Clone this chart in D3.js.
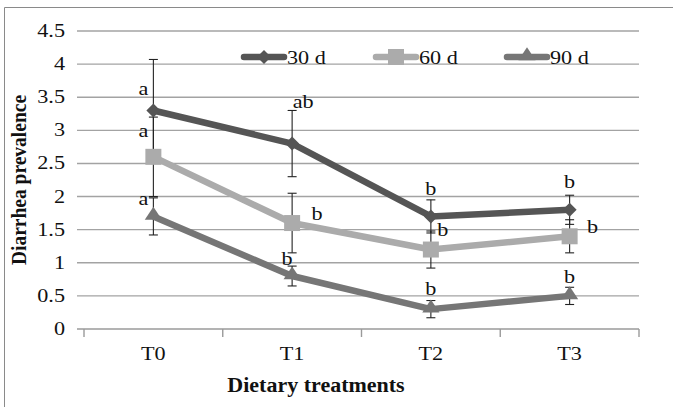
<!DOCTYPE html>
<html><head><meta charset="utf-8">
<script src="https://cdn.jsdelivr.net/npm/d3@7"></script>
<style>body{margin:0;background:#fff}svg{display:block}</style>
</head><body>
<svg id="c" width="673" height="407"></svg>
<script>
const categories = ["T0","T1","T2","T3"];
const seriesNames = ["30 d","60 d","90 d"];
const values30 = [3.3, 2.8, 1.7, 1.8];
const values60 = [2.6, 1.6, 1.2, 1.4];
const values90 = [1.7, 0.8, 0.3, 0.5];
const err30 = [0.77, 0.5, 0.25, 0.22];
const err60 = [0.6, 0.45, 0.28, 0.25];
const err90 = [0.28, 0.15, 0.13, 0.13];
const letters30 = ["a","ab","b","b"];
const letters60 = ["a","b","b","b"];
const letters90 = ["a","b","b","b"];
const yTicks = [0,0.5,1,1.5,2,2.5,3,3.5,4,4.5];
const xTitle = "Dietary treatments";
const yTitle = "Diarrhea prevalence";

const series = [
  {name: seriesNames[0], values: values30, err: err30, letters: letters30, color:"#555555", marker:"diamond"},
  {name: seriesNames[1], values: values60, err: err60, letters: letters60, color:"#ababab", marker:"square"},
  {name: seriesNames[2], values: values90, err: err90, letters: letters90, color:"#767676", marker:"triangle"}
];
// letter label offsets (layout only)
const labelOffsets = [
  [[-10,-15],[11,-36],[0,-21],[0,-22]],
  [[-10,-20],[25,-3],[12,-14],[23,-3]],
  [[-10,-11],[-5,-11],[0,-14],[0,-13]]
];

const svg = d3.select("#c");
const SX = 1.2;
const FONT = "'Liberation Serif','Times New Roman',serif";
const L = 84, R = 639, T = 31, B = 329;
const x = d3.scaleBand().domain(categories).range([L, R]).padding(0);
const y = d3.scaleLinear().domain([0, 4.5]).range([B, T]);
const cx = c => x(c) + x.bandwidth()/2;

function stext(g, tx, ty, str, opts={}) {
  const sx = opts.sx || SX;
  return g.append("text")
    .attr("transform", `translate(${tx},${ty}) scale(${sx},1)` + (opts.rot ? ` rotate(${opts.rot})` : ""))
    .attr("font-family", FONT)
    .attr("font-size", opts.size || 18.5)
    .attr("font-weight", opts.bold ? "bold" : "normal")
    .attr("text-anchor", opts.anchor || "middle")
    .attr("fill", "#111")
    .text(str);
}

// outer frame (top & left visible)
svg.append("path").attr("d", "M4.5,407 L4.5,7.5 L673,7.5").attr("fill","none").attr("stroke","#8a8a8a").attr("stroke-width",1);

// gridlines
const grid = svg.append("g");
yTicks.forEach(v => {
  grid.append("line").attr("x1", L-7).attr("x2", R).attr("y1", y(v)).attr("y2", y(v))
    .attr("stroke", v===0 ? "#9a9a9a" : "#a3a3a3").attr("stroke-width", 1.4);
});

// y tick labels
const yl = svg.append("g");
yTicks.forEach(v => stext(yl, 65, y(v)+6, d3.format("")(v), {anchor:"end"}));

// x axis ticks
const xa = svg.append("g");
const bounds = categories.map(c => x(c)).concat([R]);
bounds.forEach(b => xa.append("line").attr("x1", b).attr("x2", b).attr("y1", B).attr("y2", B+8).attr("stroke","#9a9a9a").attr("stroke-width",1.4));
categories.forEach(c => stext(xa, cx(c), B+31, c));

// axis titles
stext(svg, 316, 392, xTitle, {size:20, bold:true, sx:1.1});
stext(svg, 26, 180, yTitle, {size:19.5, bold:true, sx:1.1, rot:-90});

// markers
function marker(g, type, px, py, color) {
  let sym;
  if (type === "diamond") sym = d3.symbol().type(d3.symbolDiamond2).size(125);
  else if (type === "square") sym = d3.symbol().type(d3.symbolSquare).size(256);
  else sym = d3.symbol().type(d3.symbolTriangle2).size(160);
  const s = g.append("path").attr("d", sym()).attr("fill", color);
  if (type === "triangle") s.attr("transform", `translate(${px},${py-1}) scale(1.15,1)`);
  else s.attr("transform", `translate(${px},${py})`);
}

const line = d3.line().x(d => cx(d.c)).y(d => y(d.v));
const plot = svg.append("g");
// error bars
series.forEach(s => {
  categories.forEach((c, i) => {
    const v = s.values[i], e = s.err[i];
    const g = plot.append("g").attr("stroke","#222").attr("stroke-width",1.1);
    g.append("line").attr("x1", cx(c)).attr("x2", cx(c)).attr("y1", y(v+e)).attr("y2", y(v-e));
    g.append("line").attr("x1", cx(c)-4.5).attr("x2", cx(c)+4.5).attr("y1", y(v+e)).attr("y2", y(v+e));
    g.append("line").attr("x1", cx(c)-4.5).attr("x2", cx(c)+4.5).attr("y1", y(v-e)).attr("y2", y(v-e));
  });
});
// lines and markers
series.forEach(s => {
  const data = categories.map((c,i) => ({c, v: s.values[i]}));
  plot.append("path").attr("d", line(data)).attr("fill","none").attr("stroke", s.color)
    .attr("stroke-width", 6.5).attr("stroke-linejoin","round");
  data.forEach(d => marker(plot, s.marker, cx(d.c), y(d.v), s.color));
});
// letters
series.forEach((s, si) => {
  categories.forEach((c, i) => {
    const o = labelOffsets[si][i];
    stext(plot, cx(c)+o[0], y(s.values[i])+o[1], s.letters[i]);
  });
});

// legend
const legendX = [244, 376, 507];
const lg = svg.append("g");
series.forEach((s, i) => {
  const x0 = legendX[i], ly = 57;
  lg.append("line").attr("x1", x0).attr("x2", x0+40).attr("y1", ly).attr("y2", ly)
    .attr("stroke", s.color).attr("stroke-width", 6.5).attr("stroke-linecap","round");
  marker(lg, s.marker, x0+20, ly, s.color);
  stext(lg, x0+43, ly+7, s.name, {anchor:"start"});
});
</script>
</body></html>
